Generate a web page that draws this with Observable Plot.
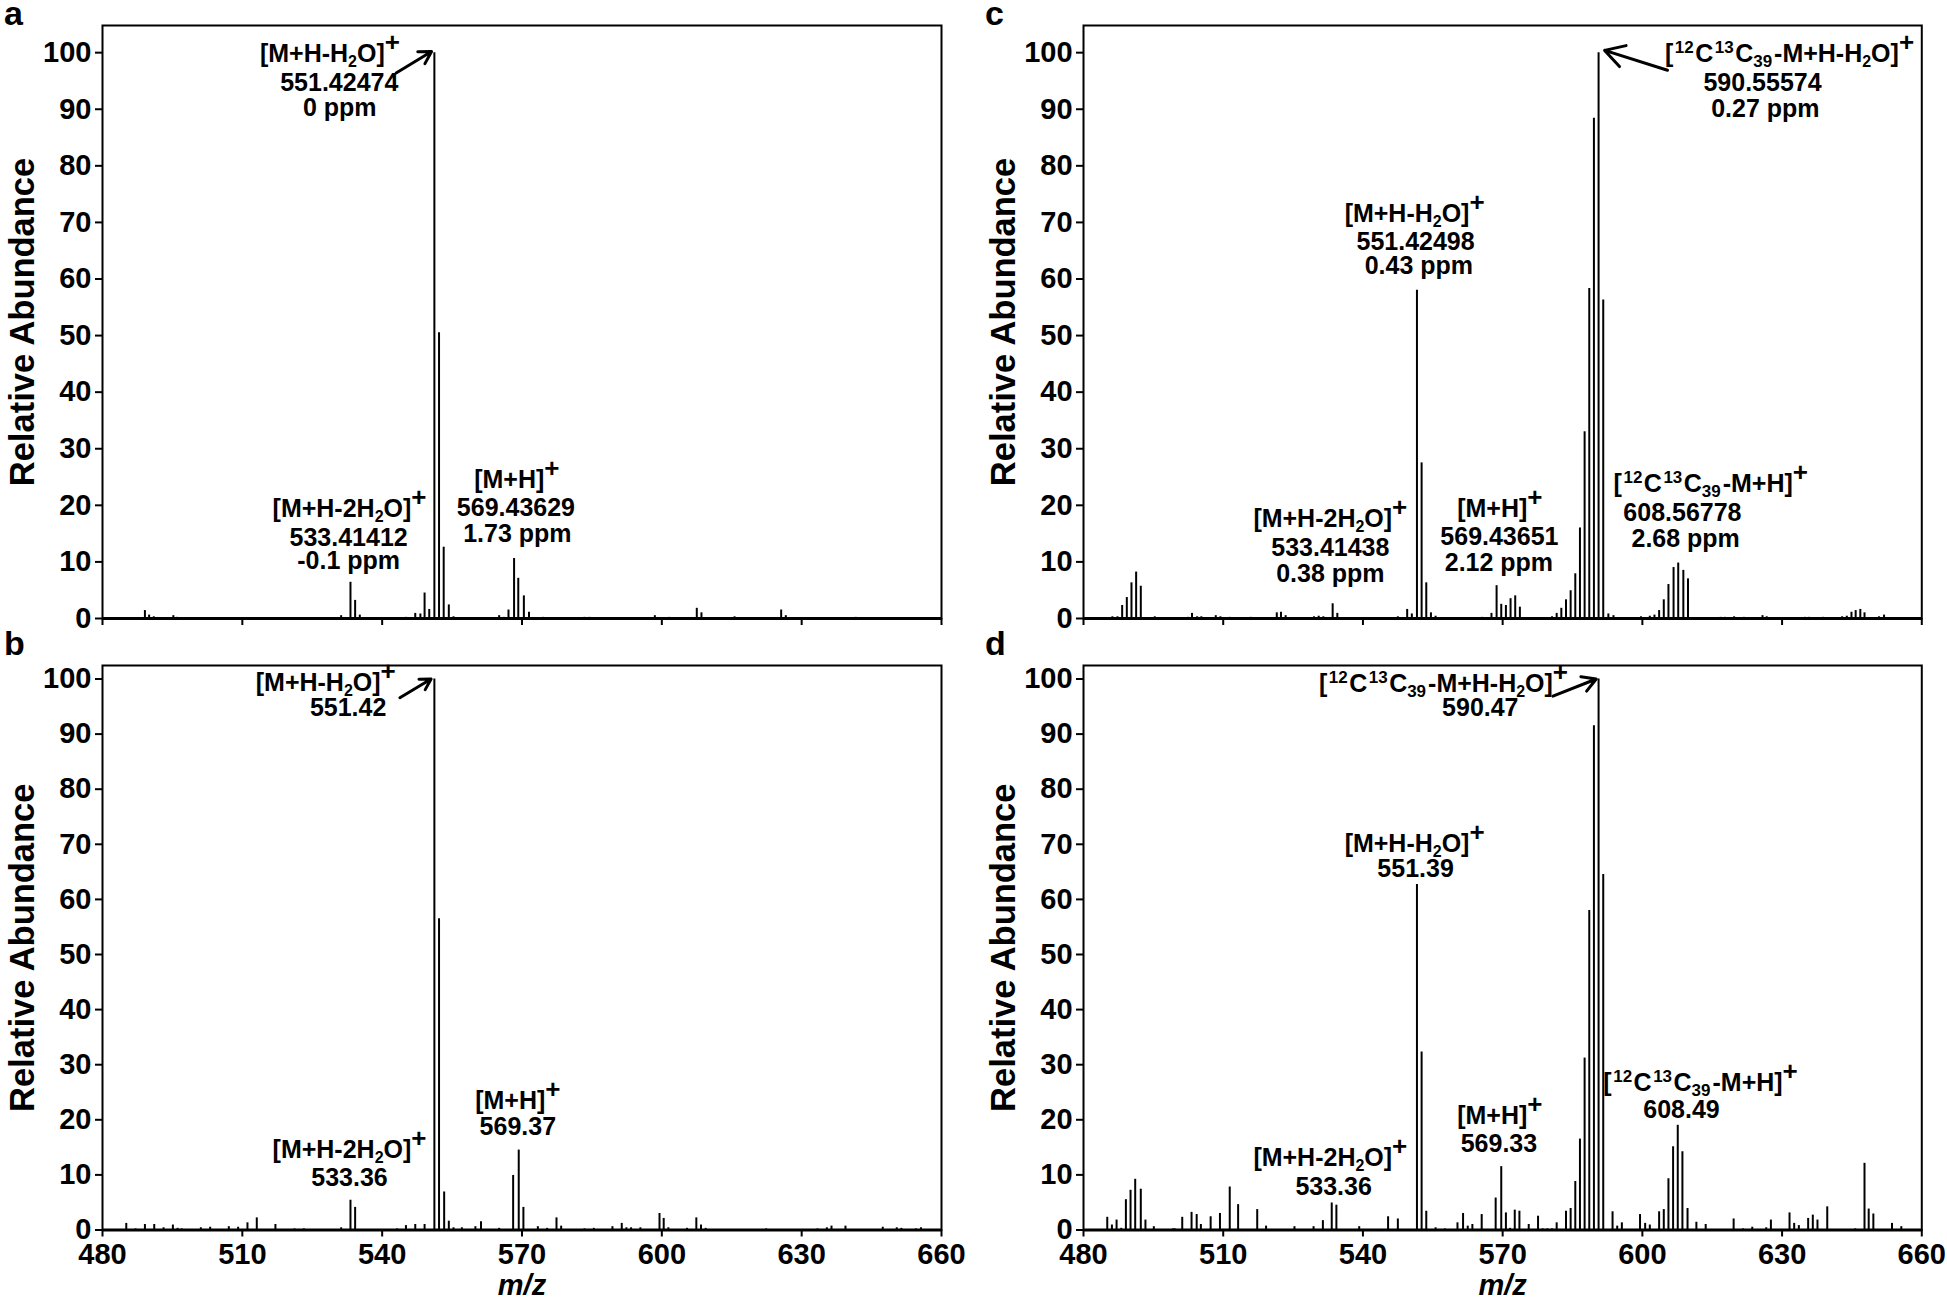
<!DOCTYPE html>
<html><head><meta charset="utf-8">
<script src="https://cdn.jsdelivr.net/npm/d3@7"></script>
<script src="https://cdn.jsdelivr.net/npm/@observablehq/plot@0.6"></script>
<style>
html,body{margin:0;padding:0;background:#fff;}
#wrap{position:relative;width:1947px;height:1302px;background:#fff;overflow:hidden;font-family:"Liberation Sans",Arial,sans-serif;}
.panel{position:absolute;}
.letter{position:absolute;font-weight:bold;font-size:34px;line-height:0.8;}
</style></head><body><div id="wrap"></div>
<script>
// ---------- data ----------
const xTicks = [480, 510, 540, 570, 600, 630, 660];
const yTicks = [0, 10, 20, 30, 40, 50, 60, 70, 80, 90, 100];

const aMz = [489.1,490.0,491.0,495.2,496.0,531.2,533.2,534.2,535.2,545.1,547.1,548.2,549.1,550.1,551.2,552.2,553.2,554.3,555.3,565.1,566.1,567.1,568.3,569.2,570.4,571.5,574.5,583.4,584.5,598.5,601.6,607.5,608.5,615.6,625.6,626.6,641.6];
const aAb = [1.4,0.6,0.3,0.5,0.2,0.5,6.4,3.2,0.6,0.2,0.9,0.8,4.5,1.6,100,50.5,12.6,2.4,0.3,0.5,0.2,1.5,10.6,7.1,4.0,1.1,0.2,0.2,0.2,0.5,0.2,1.8,1.0,0.3,1.5,0.5,0.2];

const bMz = [485.1,487.1,489.1,491.1,493.1,495.1,496.1,497.0,501.1,503.1,507.1,509.1,511.1,513.1,517.1,521.2,523.2,531.2,533.2,534.2,543.2,545.1,547.1,549.1,551.2,552.2,553.3,554.3,555.3,557.1,560.0,561.2,565.1,568.1,569.3,570.3,573.4,575.4,577.4,578.4,583.4,585.4,589.4,591.4,592.4,593.4,595.4,599.5,600.4,601.4,605.4,607.4,608.4,609.4,622.4,633.4,635.4,636.4,639.4,647.4,650.4,651.4,654.5,655.6];
const bAb = [1.2,0.2,1.0,1.0,0.4,0.9,0.3,0.2,0.4,0.5,0.6,0.5,1.3,2.2,1.0,0.2,0.2,0.4,5.4,4.1,0.2,0.8,1.0,1.0,100,56.5,6.9,1.6,0.4,0.4,0.6,1.5,0.3,9.9,14.5,4.1,0.6,0.3,2.2,0.7,0.2,0.3,0.6,1.2,0.4,0.4,0.4,3.0,2.1,0.4,0.3,2.2,0.9,0.3,0.2,0.2,0.4,0.7,0.7,0.5,0.4,0.3,0.2,0.4];

const cMz = [486.2,487.3,488.3,489.3,490.3,491.3,492.3,495.3,502.5,503.3,504.4,505.3,508.4,509.4,511.4,515.9,521.5,522.4,523.4,529.5,530.5,531.5,533.5,534.5,547.5,549.5,550.5,551.6,552.6,553.6,554.6,555.6,565.6,567.6,568.7,569.7,570.7,571.7,572.7,573.7,580.6,581.6,582.6,583.6,584.6,585.6,586.6,587.6,588.6,589.6,590.6,591.6,592.7,593.8,599.7,601.6,602.6,603.6,604.6,605.6,606.7,607.7,608.8,609.8,616.8,617.7,619.7,621.8,625.8,626.7,634.9,635.8,638.8,642.9,643.9,644.9,645.8,646.8,647.7,650.8,651.9];
const cAb = [0.3,0.3,2.3,3.7,6.3,8.2,5.7,0.3,0.2,0.9,0.3,0.3,0.5,0.3,0.2,0.2,1.0,1.1,0.5,0.3,0.4,0.3,2.6,0.9,0.3,1.6,0.8,58,27.5,6.3,1.0,0.4,0.2,0.9,5.8,2.5,2.3,3.5,4.0,2.0,0.3,0.9,1.8,3.3,4.9,7.9,16,33,58.3,88.4,100,56.3,0.8,0.5,0.3,0.4,0.6,1.4,3.3,6.0,9.0,9.8,8.5,7.0,0.2,0.2,0.3,0.2,0.5,0.3,0.2,0.2,0.2,0.3,0.4,1.1,1.4,1.6,1.0,0.3,0.6];

const dMz = [485.1,486.1,487.1,488.1,489.1,490.1,491.1,492.3,493.3,495.1,499.2,499.6,501.2,503.2,504.3,505.2,507.3,509.3,511.4,513.2,517.3,519.2,525.3,529.4,531.4,533.3,534.3,539.2,543.4,545.4,547.5,551.6,552.6,553.6,555.6,557.6,560.3,561.5,562.5,563.5,565.5,568.5,569.7,570.7,571.6,572.6,573.6,575.6,577.6,578.6,579.6,580.6,581.6,583.6,584.6,585.6,586.6,587.6,588.6,589.6,590.6,591.6,593.6,594.6,595.6,599.5,600.6,601.6,603.6,604.6,605.6,606.6,607.6,608.6,609.7,611.6,613.6,619.6,621.6,623.6,626.6,627.6,631.6,632.6,633.6,635.6,636.6,637.6,639.7,645.7,647.7,648.6,649.6,653.6,655.6];
const dAb = [2.3,0.9,1.8,0.3,5.5,7.2,9.2,7.4,1.8,0.6,0.2,0.2,2.3,3.2,2.8,1.0,2.4,3.0,7.8,4.6,3.7,0.7,0.6,0.6,1.7,4.9,4.5,0.6,0.1,2.4,2.0,62.7,32.3,3.4,0.4,0.2,1.3,3.0,0.7,1.0,2.8,5.8,11.5,3.1,0.3,3.6,3.4,1.0,2.5,0.2,0.2,0.2,1.3,3.4,3.9,8.8,16.5,31.2,58,91.5,100,64.5,3.3,0.7,1.3,2.8,1.2,0.9,3.3,3.7,9.3,15.1,19.0,14.2,3.9,1.4,1.0,2.0,0.2,0.5,0.4,1.8,3.1,1.2,0.8,2.1,2.7,1.8,4.2,0.2,12.1,3.8,2.9,1.2,0.6];

// annotation lines (text, m/z of centre, abundance of baseline)
const aLabels = ["[M+H-H_{2}O]^{+}", "551.42474", "0 ppm", "[M+H-2H_{2}O]^{+}", "533.41412", "-0.1 ppm", "[M+H]^{+}", "569.43629", "1.73 ppm"];
const aLabelX = [528.8, 530.8, 530.9, 533.0, 532.8, 532.8, 568.9, 568.7, 569.0];
const aLabelY = [98.4, 93.2, 88.8, 18.0, 12.9, 8.7, 23.0, 18.2, 13.6];

const bLabels = ["[M+H-H_{2}O]^{+}", "551.42", "[M+H-2H_{2}O]^{+}", "533.36", "[M+H]^{+}", "569.37"];
const bLabelX = [527.9, 532.7, 533.0, 533.0, 569.1, 569.1];
const bLabelY = [97.9, 93.3, 13.1, 8.0, 22.0, 17.2];

const cLabels = ["[^{12}C^{13}C_{39}-M+H-H_{2}O]^{+}", "590.55574", "0.27 ppm", "[M+H-H_{2}O]^{+}", "551.42498", "0.43 ppm", "[M+H-2H_{2}O]^{+}", "533.41438", "0.38 ppm", "[M+H]^{+}", "569.43651", "2.12 ppm", "[^{12}C^{13}C_{39}-M+H]^{+}", "608.56778", "2.68 ppm"];
const cLabelX = [631.6, 625.8, 626.4, 551.1, 551.3, 552.0, 533.0, 533.0, 533.0, 569.4, 569.3, 569.2, 614.7, 608.6, 609.3];
const cLabelY = [98.4, 93.3, 88.7, 70.0, 65.2, 60.8, 16.2, 11.1, 6.4, 18.0, 12.9, 8.4, 22.3, 17.3, 12.7];

const dLabels = ["[^{12}C^{13}C_{39}-M+H-H_{2}O]^{+}", "590.47", "[M+H-H_{2}O]^{+}", "551.39", "[M+H-2H_{2}O]^{+}", "533.36", "[M+H]^{+}", "569.33", "[^{12}C^{13}C_{39}-M+H]^{+}", "608.49"];
const dLabelX = [557.3, 565.2, 551.1, 551.3, 533.0, 533.7, 569.4, 569.2, 612.5, 608.4];
const dLabelY = [97.7, 93.3, 68.6, 64.0, 11.6, 6.4, 19.2, 14.2, 25.3, 20.4];

// arrows: [from, to]
const aArrowX = [543.0, 550.6], aArrowY = [96.4, 100.2];
const bArrowX = [543.8, 550.5], bArrowY = [96.6, 100.0];
const cArrowX = [605.4, 591.9], cArrowY = [96.9, 100.4];
const dArrowX = [580.8, 590.1], dArrowY = [96.9, 100.0];

const panelLetters = ["a", "b", "c", "d"];
const yTitle = "Relative Abundance";
const xTitle = "m/z";

// ---------- drawing ----------
const FONT = "'Liberation Sans', Arial, Helvetica, sans-serif";
const NS = "http://www.w3.org/2000/svg";

function applyMarkup(svg) {
  svg.querySelectorAll("text").forEach(t => {
    const tsp = [...t.querySelectorAll("tspan")];
    const targets = tsp.length ? tsp : [t];
    targets.forEach(el => {
      const s = el.textContent;
      if (!/[_^]\{/.test(s)) return;
      el.textContent = "";
      let pad = 0;
      s.split(/(\^\{[^}]*\}|_\{[^}]*\})/).forEach(p => {
        if (!p) return;
        const ts = document.createElementNS(NS, "tspan");
        if (pad) ts.setAttribute("dx", pad);
        pad = 0;
        if (p[0] === "^") {
          const inner = p.slice(2, -1);
          ts.textContent = inner;
          if (inner === "+") { ts.setAttribute("font-size", 26); ts.setAttribute("baseline-shift", 11); }
          else { ts.setAttribute("font-size", 17); ts.setAttribute("baseline-shift", 9); ts.setAttribute("dx", 1.5); pad = 1.5; }
        } else if (p[0] === "_") {
          const inner = p.slice(2, -1);
          ts.textContent = inner;
          ts.setAttribute("font-size", inner.length > 1 ? 17 : 16);
          ts.setAttribute("baseline-shift", -5);
          if (inner.length > 1) pad = 2;
        } else ts.textContent = p;
        el.appendChild(ts);
      });
    });
  });
}

const wrap = document.getElementById("wrap");
const frames = [
  {L: 101.5, R: 940.5, T: 25, B: 618, ymax: 104.8, bottom: false},
  {L: 101.5, R: 940.5, T: 664.5, B: 1229, ymax: 102.45, bottom: true},
  {L: 1082.7, R: 1921, T: 25, B: 618, ymax: 104.8, bottom: false},
  {L: 1082.7, R: 1921, T: 664.5, B: 1229, ymax: 102.45, bottom: true}
];
const letterPos = [[4, 0], [4, 630], [985, 0], [985, 630]];
const series = [
  {mz: aMz, ab: aAb, lt: aLabels, lx: aLabelX, ly: aLabelY, ax: aArrowX, ay: aArrowY},
  {mz: bMz, ab: bAb, lt: bLabels, lx: bLabelX, ly: bLabelY, ax: bArrowX, ay: bArrowY},
  {mz: cMz, ab: cAb, lt: cLabels, lx: cLabelX, ly: cLabelY, ax: cArrowX, ay: cArrowY},
  {mz: dMz, ab: dAb, lt: dLabels, lx: dLabelX, ly: dLabelY, ax: dArrowX, ay: dArrowY}
];

frames.forEach((f, i) => {
  const s = series[i];
  const peaks = s.mz.map((m, k) => ({mz: m, ab: s.ab[k]}));
  const labels = s.lt.map((t, k) => ({t, x: s.lx[k], y: s.ly[k]}));
  const arrow = [{x1: s.ax[0], y1: s.ay[0], x2: s.ax[1], y2: s.ay[1]}];
  const mL = 100, mR = 20, mT = 20, mB = 90;
  const W = f.R - f.L + mL + mR, H = f.B - f.T + mT + mB;
  const chart = Plot.plot({
    width: W, height: H,
    marginLeft: mL, marginRight: mR, marginTop: mT, marginBottom: mB,
    style: `font-family:${FONT};font-weight:bold;overflow:visible;background:transparent;color:#000;`,
    x: {domain: [480, 660], label: null},
    y: {domain: [0, f.ymax], label: null},
    marks: [
      Plot.ruleX(peaks, {x: "mz", y1: 0, y2: "ab", stroke: "#000", strokeWidth: 2}),
      Plot.ruleY([0], {stroke: "#000", strokeWidth: 3}),
      Plot.frame({stroke: "#000", strokeWidth: 2}),
      Plot.axisY({ticks: yTicks, tickSize: 7, tickPadding: 4, fontSize: 29, strokeWidth: 2, label: null, tickFormat: d => String(d)}),
      Plot.axisX({ticks: xTicks, tickSize: 7, tickPadding: 6, fontSize: 29, strokeWidth: 2, label: null, tickFormat: f.bottom ? (d => String(d)) : (() => "")}),
      Plot.text([yTitle], {text: d => d, frameAnchor: "left", textAnchor: "middle", rotate: -90, dx: -80, fontSize: 34.5, fontWeight: "bold"}),
      f.bottom ? Plot.text([xTitle], {text: d => d, frameAnchor: "bottom", textAnchor: "middle", dy: 65, fontSize: 29, fontStyle: "italic", fontWeight: "bold"}) : null,
      Plot.text(labels, {x: "x", y: "y", text: "t", fontSize: 25, fontWeight: "bold", lineAnchor: "bottom", textAnchor: "middle"}),
      Plot.arrow(arrow, {x1: "x1", y1: "y1", x2: "x2", y2: "y2", stroke: "#000", strokeWidth: 3, headLength: 16, bend: 0})
    ]
  });
  applyMarkup(chart);
  chart.classList.add("panel");
  chart.style.left = (f.L - mL) + "px";
  chart.style.top = (f.T - mT) + "px";
  wrap.appendChild(chart);

  const lt = document.createElement("div");
  lt.className = "letter";
  lt.textContent = panelLetters[i];
  lt.style.left = letterPos[i][0] + "px";
  lt.style.top = letterPos[i][1] + "px";
  wrap.appendChild(lt);
});
</script></body></html>
